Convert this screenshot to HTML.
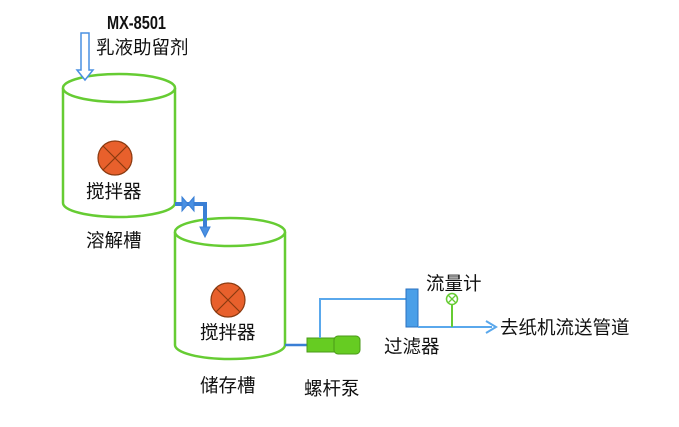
<!DOCTYPE html>
<html><head><meta charset="utf-8"><style>
body{margin:0;background:#fff;}
svg text{font-family:"Liberation Sans","Noto Sans CJK SC",sans-serif;font-size:18.5px;fill:#111;}
</style></head><body>
<svg width="679" height="422" viewBox="0 0 679 422" xmlns="http://www.w3.org/2000/svg">
<g fill="#fff" stroke="#66cc33" stroke-width="2.5">
<path d="M63 88 V203 A56 14 0 0 0 175 203 V88"/>
<ellipse cx="119" cy="88" rx="56" ry="14"/>
<path d="M175 232 V345 A55 14 0 0 0 285 345 V232"/>
<ellipse cx="230" cy="232" rx="55" ry="14"/>
</g>
<path d="M81 33 H89 V70 H93 L85 80 L77 70 H81 Z" fill="#fff" stroke="#4a90e2" stroke-width="1.5"/>
<text x="107" y="29" font-weight="bold" textLength="59" lengthAdjust="spacingAndGlyphs" style="font-size:18px">MX-8501</text>
<text x="96" y="54">乳液助留剂</text>
<g stroke="#8a3a10" stroke-width="1.2">
<circle cx="115" cy="158" r="17" fill="#e8602c"/>
<path d="M103 146 L127 170 M127 146 L103 170"/>
<circle cx="228" cy="300" r="17" fill="#e8602c"/>
<path d="M216 288 L240 312 M240 288 L216 312"/>
</g>
<text x="86" y="198">搅拌器</text>
<text x="86" y="247">溶解槽</text>
<text x="200" y="339">搅拌器</text>
<text x="200" y="392">储存槽</text>
<path d="M175 204 H205 V228" fill="none" stroke="#3a7fd5" stroke-width="4"/>
<path d="M200 227 H210 L205 237 Z" fill="#4a90e2" stroke="#3a7fd5"/>
<path d="M182 197 L194 211 V197 L182 211 Z" fill="#4a90e2" stroke="#3a7fd5" stroke-width="1"/>
<path d="M285 345 H308" stroke="#3a7fd5" stroke-width="2.5"/>
<rect x="307" y="338" width="28" height="14" fill="#66cc22" stroke="#4a9a18"/>
<rect x="334" y="336" width="26" height="18" rx="4" fill="#66cc22" stroke="#4a9a18"/>
<path d="M320 338 V299 H406" fill="none" stroke="#5aa8ec" stroke-width="2"/>
<rect x="406" y="289" width="12" height="38" fill="#4a9fe8" stroke="#2a70c0"/>
<path d="M418 327 H492" stroke="#5aa8ec" stroke-width="2"/>
<path d="M486 321 L496 327 L486 333" fill="none" stroke="#5aa8ec" stroke-width="2"/>
<path d="M452 305 V327" stroke="#66cc33" stroke-width="2"/>
<circle cx="452" cy="299" r="5.5" fill="#fff" stroke="#66cc33" stroke-width="1.5"/>
<path d="M448 295 L456 303 M456 295 L448 303" stroke="#66cc33" stroke-width="1.3"/>
<text x="426" y="290">流量计</text>
<text x="384" y="353">过滤器</text>
<text x="304" y="395">螺杆泵</text>
<text x="500" y="334">去纸机流送管道</text>
</svg>
</body></html>
